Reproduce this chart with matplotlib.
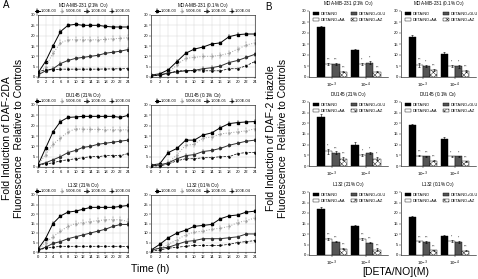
import numpy as np
import matplotlib.pyplot as plt

plt.rcParams['font.family'] = ['Liberation Sans', 'DejaVu Sans']
plt.rcParams['hatch.linewidth'] = 0.3

W, H = 478, 279

# ---- panel A : time course ----
hours = [0, 2, 4, 6, 8, 10, 12, 14, 16, 18, 20, 22, 24]

a_titles = ['MDA-MB-231 (21% O$_2$)', 'MDA-MB-231 (0.1% O$_2$)',
            'DU145 (21% O$_2$)', 'DU145 (0.1% O$_2$)',
            'L132 (21% O$_2$)', 'L132 (0.1% O$_2$)']
a_legend_first = ['1.00E-03', '5.00E-04', '1.00E-04', '1.00E-05']
a_legend_other = ['1.00E-03', '5.00E-04', '1.00E-05', '1.00E-04']

mda21 = [[2, 7.5, 15, 22, 25, 25.5, 25, 25, 25, 24.5, 24.2, 24.2, 24.2],
         [1, 5, 11.5, 16.5, 18, 18, 18, 18, 18, 18.2, 18.5, 18.7, 19],
         [1, 3, 4, 6.5, 8, 9, 9.5, 10, 10.5, 11.5, 12, 12.5, 13.3],
         [2.5, 3.5, 3.5, 3.8, 3.8, 3.8, 3.8, 3.8, 3.8, 3.9, 3.9, 4, 4]]
mda01 = [[1, 1.5, 3.5, 7.5, 11.5, 13.5, 14.5, 16, 16.5, 19.5, 20.5, 20.8, 20.8],
         [1, 1, 2, 6, 9, 9.5, 10, 10, 10.5, 11.5, 13.5, 15.5, 16.5],
         [0.5, 1, 2, 2.5, 3, 3.2, 4, 4.5, 5.3, 7, 8, 9.5, 11],
         [0.5, 1, 1.5, 3, 3, 3, 3, 3, 3, 4, 4, 5.5, 7.5]]
du21 = [[1, 9, 17, 22, 24, 24.2, 24.5, 24.5, 24.5, 24.5, 24.5, 24, 25],
        [1, 6, 11, 14, 17, 18.5, 18.3, 18.2, 18.2, 18, 18, 18, 18],
        [1, 2, 3.5, 5, 7, 8, 9.5, 10, 11, 11.5, 12, 12.5, 13],
        [1, 1.5, 2, 3, 3.5, 4, 4.5, 5, 5, 5.5, 5.5, 5.5, 6.5]]
du01 = [[1, 1.5, 7, 9, 13, 13, 15.5, 16.5, 19, 21, 21.5, 21.8, 22],
        [1, 1, 2, 6, 10.5, 11, 14, 14.5, 16, 16.5, 17, 17.5, 18.5],
        [0.5, 1, 2, 4, 5.5, 6, 7.5, 8, 9, 10.5, 11.5, 12.5, 13],
        [0.5, 0.5, 1.5, 3, 4, 4, 4.5, 4.5, 5, 5, 6.5, 7, 7]]
l21 = [[1.5, 7, 15, 19, 21, 21.5, 22.5, 23.5, 23.5, 23.5, 23.5, 24, 24.5],
       [1, 5, 8, 11, 13.5, 15, 15.5, 16, 16.5, 17, 17, 17, 16],
       [1, 2.5, 4.5, 5.5, 7, 8, 9, 10, 11, 12, 13.5, 14.5, 14.5],
       [1, 2, 2.5, 3, 3, 3, 3, 3, 3, 3, 3, 3, 2.8]]
l01 = [[1, 4, 7.5, 10, 11.5, 13.5, 14, 14.5, 17.5, 19, 19.5, 21, 21.5],
       [1, 2, 4, 6.5, 9, 10.5, 11, 12, 12.5, 13.5, 15.5, 16.5, 18],
       [1, 2, 2.5, 4, 5.5, 6, 7, 7, 7, 7.5, 8, 9.5, 9.5],
       [0.5, 1, 2, 2.5, 3, 3.5, 3.5, 3.5, 3.5, 4, 5, 5.5, 6]]
a_data = [mda21, mda01, du21, du01, l21, l01]
a_err = [0.6, 1.2, 0.6, 0.4]

# ---- panel B : bars ----
b_titles = a_titles
doses = ['10$^{-3}$', '10$^{-4}$']
treatments = ['DETA/NO', 'DETA/NO+AA', 'DETA/NO+GLU', 'DETA/NO+AZ']

b_mda21 = [[22.5, 12.5], [6, 6], [6, 6.5], [2.5, 2.5]]
b_mda01 = [[18, 10.5], [5.5, 5], [5, 4.8], [3.2, 2.8]]
b_du21 = [[23, 10], [7, 5], [6.3, 6], [3.5, 3.5]]
b_du01 = [[19, 12.8], [4.8, 4.6], [4.5, 4.5], [2.5, 2.2]]
b_l21 = [[22, 13.8], [7.5, 7.5], [6.3, 5.8], [3, 2.5]]
b_l01 = [[18.2, 9], [6.5, 6.5], [6.2, 6.2], [2.3, 2.0]]
b_data = [b_mda21, b_mda01, b_du21, b_du01, b_l21, b_l01]

b_mda21_e = [[0.5, 0.3], [0.5, 0.5], [0.5, 0.8], [0.3, 0.3]]
b_mda01_e = [[1.2, 1.0], [0.8, 0.4], [0.5, 0.5], [0.5, 0.4]]
b_du21_e = [[1.5, 1.2], [1.2, 0.5], [0.5, 0.6], [0.5, 0.5]]
b_du01_e = [[0.5, 0.7], [0.3, 0.2], [0.4, 0.3], [0.3, 0.2]]
b_l21_e = [[1.0, 0.3], [0.5, 0.4], [0.3, 0.3], [0.2, 0.6]]
b_l01_e = [[0.3, 0.3], [0.3, 0.5], [0.5, 0.3], [0.2, 0.2]]
b_err = [b_mda21_e, b_mda01_e, b_du21_e, b_du01_e, b_l21_e, b_l01_e]

b_stars = [[['***', '***', '***'], ['**', '**', '***']],
           [['***', '**', '***'], ['*', '*', '***']],
           [['**', '***', '***'], ['*', '*', '**']],
           [['***', '***', '***'], ['**', '**', '***']],
           [['***', '***', '***'], ['***', '***', '***']],
           [['***', '***', '***'], ['*', '*', '***']]]


def px_axes(fig, x0, y0, x1, y1):
    return fig.add_axes([x0 / W, 1 - y1 / H, (x1 - x0) / W, (y1 - y0) / H])


fig = plt.figure(figsize=(W / 100, H / 100), dpi=100)

styles = [dict(color='black', ls='-', marker='s', lw=0.7, ms=1.6),
          dict(color='#a0a0a0', ls=':', marker='+', lw=0.7, ms=2.0),
          dict(color='#303030', ls='-', marker='o', lw=0.7, ms=1.4),
          dict(color='black', ls='--', marker='.', lw=0.5, ms=1.6)]

a_cols = [(38, 128), (151, 255)]
a_rows = [(15, 77), (105, 167), (195, 252)]

for i, series in enumerate(a_data):
    r, c = divmod(i, 2)
    ax = px_axes(fig, a_cols[c][0], a_rows[r][0], a_cols[c][1], a_rows[r][1])
    labels = a_legend_first if i == 0 else a_legend_other
    for k, ys in enumerate(series):
        st = styles[k]
        ax.errorbar(hours, ys, yerr=a_err[k], color=st['color'], ls=st['ls'],
                    marker=st['marker'], lw=st['lw'], ms=st['ms'],
                    elinewidth=0.3, capsize=0.7, capthick=0.3, label=labels[k])
    ax.set_xlim(0, 24)
    ax.set_ylim(0, 30)
    ax.set_xticks(hours)
    ax.set_yticks(range(0, 31, 5))
    ax.grid(color='#d0d0d0', lw=0.3)
    ax.tick_params(labelsize=3, length=1.2, width=0.3, pad=1)
    for s in ax.spines.values():
        s.set_linewidth(0.4)
    ax.set_title(a_titles[i], fontsize=3.3, pad=6)
    ax.legend(loc='lower center', bbox_to_anchor=(0.5, 0.99), ncol=4,
              fontsize=2.8, frameon=False, handlelength=1.2, handletextpad=0.3,
              columnspacing=0.8, borderpad=0.1, markerscale=0.8)

fig.text(7 / W, 1 - 138 / H, 'Fold Induction of DAF-2DA', rotation=90,
         fontsize=7.5, ha='center', va='center')
fig.text(19 / W, 1 - 138 / H, 'Fluorescence  Relative to Controls', rotation=90,
         fontsize=7.5, ha='center', va='center')
fig.text(150 / W, 1 - 269 / H, 'Time (h)', fontsize=7.5, ha='center', va='center')
fig.text(3 / W, 1 - 5 / H, 'A', fontsize=7, ha='left', va='center')

# ---- B ----
b_cols = [(309, 388), (401, 476)]
b_rows = [(11, 77), (102, 166), (192, 255)]
bar_w = 0.22
bar_face = ['black', 'white', '#555555', 'white']
bar_hatch = [None, None, None, 'xxxxxx']
x = np.arange(len(doses))

for i, vals in enumerate(b_data):
    r, c = divmod(i, 2)
    ax = px_axes(fig, b_cols[c][0], b_rows[r][0], b_cols[c][1], b_rows[r][1])
    for k, v in enumerate(vals):
        off = (k - 1.5) * bar_w
        ax.bar(x + off, v, bar_w, color=bar_face[k], edgecolor='black',
               hatch=bar_hatch[k], lw=0.3, label=treatments[k],
               yerr=b_err[i][k], error_kw=dict(elinewidth=0.4, capsize=0.8,
                                              capthick=0.4, ecolor='black'))
        if k > 0:
            for j in range(len(doses)):
                ax.text(x[j] + off, v[j] + b_err[i][k][j] + 0.6, b_stars[i][j][k - 1],
                        fontsize=2.2, ha='center', va='bottom')
    ax.set_xlim(-0.68, 1.65)
    ax.set_ylim(0, 30)
    ax.set_xticks(x)
    ax.set_xticklabels(doses)
    ax.set_yticks(range(0, 31, 5))
    ax.tick_params(labelsize=3, length=1.2, width=0.3, pad=1)
    ax.tick_params(axis='x', labelsize=3.2, pad=1.5)
    for s in ['top', 'right']:
        ax.spines[s].set_visible(False)
    for s in ['left', 'bottom']:
        ax.spines[s].set_linewidth(0.4)
    ax.set_title(b_titles[i], fontsize=3.3, pad=4)
    ax.legend(loc='upper left', bbox_to_anchor=(0.02, 1.02), ncol=2,
              fontsize=2.8, frameon=False, handlelength=1.6, handleheight=0.9,
              handletextpad=0.4, columnspacing=1.5, borderpad=0.1,
              labelspacing=0.4)

fig.text(271 / W, 1 - 138 / H, 'Fold Induction of DAF-2 triazole', rotation=90,
         fontsize=7.5, ha='center', va='center')
fig.text(283 / W, 1 - 138 / H, 'Fluorescence  Relative to Controls', rotation=90,
         fontsize=7.5, ha='center', va='center')
fig.text(396 / W, 1 - 272 / H, '[DETA/NO](M)', fontsize=7.5, ha='center', va='center')
fig.text(265 / W, 1 - 7 / H, 'B', fontsize=7, ha='left', va='center')

fig.savefig('out.png', dpi=100)
